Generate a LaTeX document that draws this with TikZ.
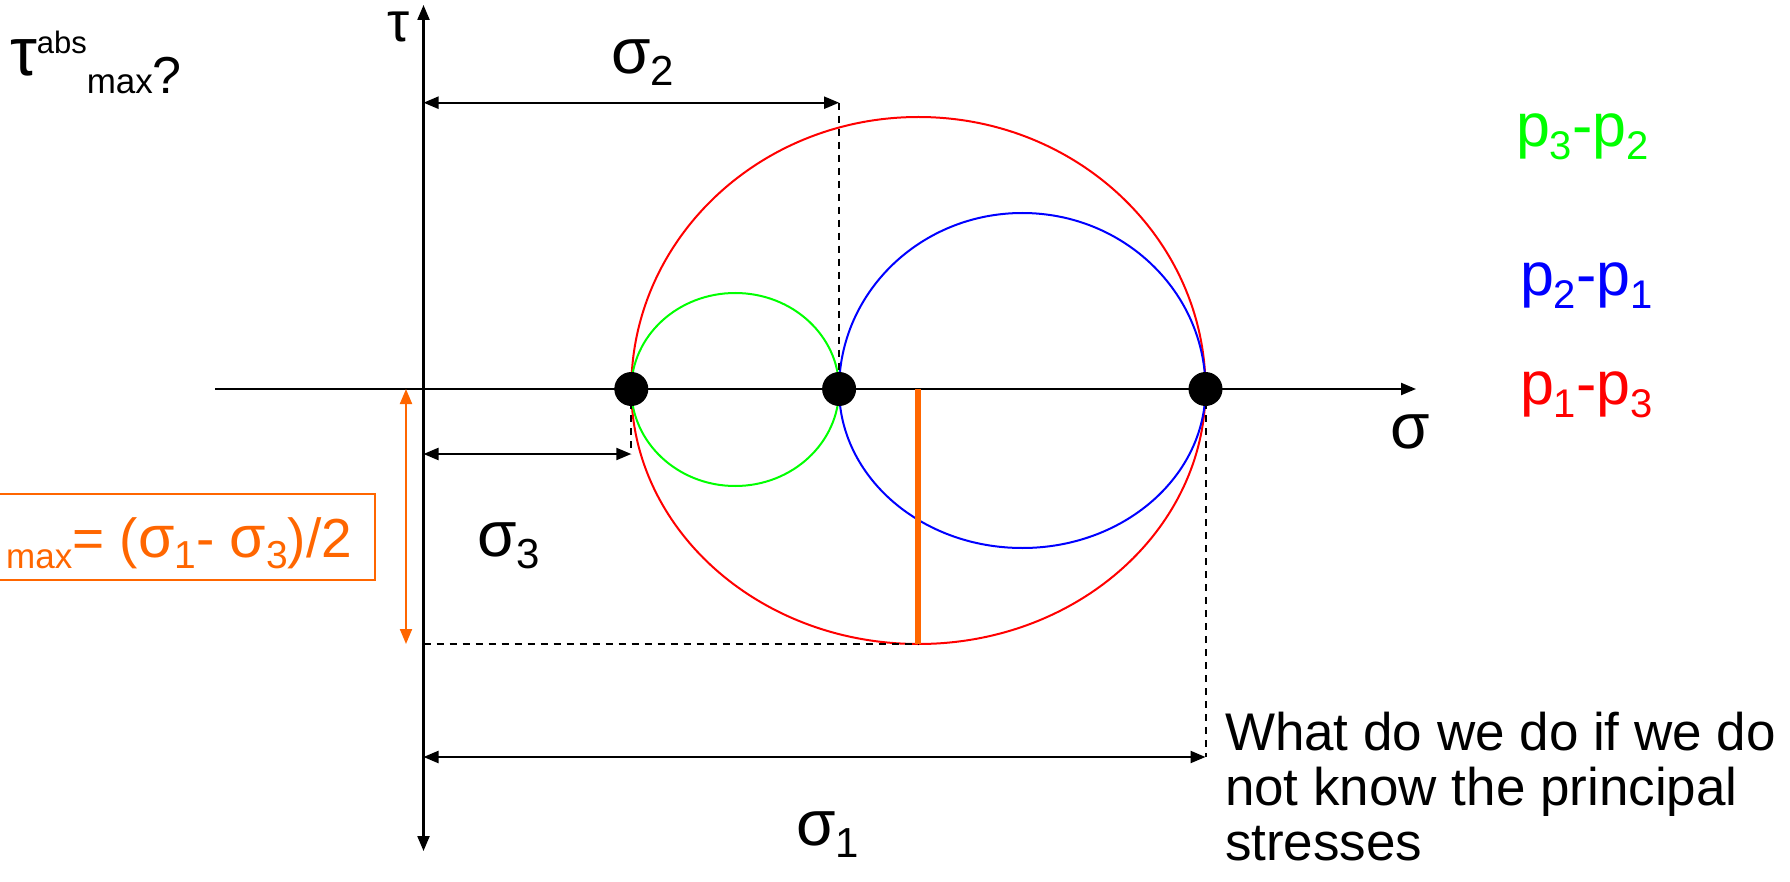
\documentclass[tikz,border=0pt]{standalone}
\usepackage{fontspec}
\usepackage{graphicx}
\setmainfont{Liberation Sans}
\usetikzlibrary{arrows.meta}
\newcommand\fsz[1]{\fontsize{#1}{#1}\selectfont}
\newcommand\gsym[2]{{\fsz{#1}#2}}
\definecolor{myorange}{RGB}{255,102,0}
\definecolor{mygreen}{RGB}{0,255,0}
\definecolor{myblue}{RGB}{0,0,255}
\definecolor{myred}{RGB}{255,0,0}
\begin{document}
\begin{tikzpicture}[x=1pt,y=-1pt,
  axisline/.style={line width=2.2pt},
  tip/.tip={Triangle[length=15pt,width=12pt]},
  dimline/.style={line width=2.2pt,tip-tip},
  dashline/.style={line width=2pt,dash pattern=on 7pt off 6pt},
  circ/.style={line width=2pt},
  dotnode/.style={circle,fill=black,minimum size=34pt,inner sep=0pt},
  lbl/.style={inner sep=0pt,outer sep=0pt},
]
\useasboundingbox (0,0) rectangle (1790,882);

% principal points
\coordinate (p3) at (631.3,389);
\coordinate (p2) at (839.1,389);
\coordinate (p1) at (1205.5,389);

% circles
\draw[circ,myred]   (p3) arc[start angle=180,end angle=0,x radius=287.1pt,y radius=272pt];
\draw[circ,myred]   (p3) arc[start angle=180,end angle=360,x radius=287.1pt,y radius=255pt];
\draw[circ,myblue]  (p2) arc[start angle=180,end angle=0,x radius=183.2pt,y radius=176pt];
\draw[circ,myblue]  (p2) arc[start angle=180,end angle=360,x radius=183.2pt,y radius=159pt];
\draw[circ,mygreen] (p3) arc[start angle=180,end angle=0,x radius=103.9pt,y radius=96pt];
\draw[circ,mygreen] (p3) arc[start angle=180,end angle=360,x radius=103.9pt,y radius=97pt];

% axes
\coordinate (hL) at (215,389);
\coordinate (hR) at (1416,389);
\coordinate (vT) at (423.5,5);
\coordinate (vB) at (423.5,851);
\draw[axisline,-tip] (hL) -- (hR);
\draw[axisline,tip-tip] (vT) -- (vB);

% dimension lines
\coordinate (d2L) at (423.5,102.7);
\coordinate (d2R) at (839.1,102.7);
\coordinate (d3L) at (423.5,454);
\coordinate (d3R) at (631.3,454);
\coordinate (d1L) at (423.5,757);
\coordinate (d1R) at (1205.5,757);
\draw[dimline] (d2L) -- (d2R);
\draw[dimline] (d3L) -- (d3R);
\draw[dimline] (d1L) -- (d1R);
\draw[dashline] (d2R) -- (p2);
\draw[dashline] (p3) -- (d3R);
\draw[dashline] (p1) -- (d1R);

% tau max construction
\coordinate (rc) at (918.4,389);
\coordinate (rb) at (918.4,644);
\coordinate (hb) at (423.5,644);
\draw[dashline] (hb) -- (rb);
\draw[myorange,line width=6pt] (rc) -- (rb);
\coordinate (oT) at (406,389);
\coordinate (oB) at (406,644);
\draw[myorange,line width=2pt,{Triangle[length=15pt,width=12pt]}-{Triangle[length=15pt,width=12pt]}] (oT) -- (oB);

% dots
\node[dotnode] (n3) at (p3) {};
\node[dotnode] (n2) at (p2) {};
\node[dotnode] (n1) at (p1) {};

% orange box
\draw[myorange,line width=2pt] (-10,494) rectangle (375,580);
\node[lbl,anchor=base east,text=myorange] (taumax) at (352,557)
  {{\fsz{35}\raisebox{-11pt}{max}}{\fsz{55}= (}\gsym{59}{σ}{\fsz{39}\raisebox{-11pt}{1}}{\fsz{55}- }\gsym{59}{σ}{\fsz{39}\raisebox{-11pt}{3}}{\fsz{55})/2}};

% labels
\node[lbl,anchor=base west] (taulbl) at (387,42) {\gsym{56}{τ}};
\node[lbl,anchor=base west] (siglbl) at (1390,448) {\gsym{64}{σ}};
\node[lbl,anchor=base west] (s2lbl) at (611,74) {\gsym{64}{σ}{\fsz{42}\raisebox{-12pt}{2}}};
\node[lbl,anchor=base west] (s3lbl) at (477,556) {\gsym{64}{σ}{\fsz{42}\raisebox{-12pt}{3}}};
\node[lbl,anchor=base west] (s1lbl) at (796,845) {\gsym{64}{σ}{\fsz{42}\raisebox{-12pt}{1}}};

\node[lbl,anchor=base west] (q) at (10,94)
  {\raisebox{18pt}{\gsym{68}{τ}}\raisebox{40pt}{\fsz{31}abs}{\fsz{35}max}{\fsz{52}?}};

% legend
\node[lbl,anchor=base west,text=mygreen] (l32) at (1516,147)
  {{\fsz{61}p}{\fsz{40}\raisebox{-13pt}{3}}{\fsz{61}-p}{\fsz{40}\raisebox{-13pt}{2}}};
\node[lbl,anchor=base west,text=myblue] (l21) at (1520,296)
  {{\fsz{61}p}{\fsz{40}\raisebox{-13pt}{2}}{\fsz{61}-p}{\fsz{40}\raisebox{-13pt}{1}}};
\node[lbl,anchor=base west,text=myred] (l13) at (1520,404)
  {{\fsz{61}p}{\fsz{40}\raisebox{-13pt}{1}}{\fsz{61}-p}{\fsz{40}\raisebox{-13pt}{3}}};

% question
\node[lbl,anchor=north west,align=left,font=\fontsize{53}{55}\selectfont] (what) at (1225,712)
  {What do we do if we do\\not know the principal\\stresses};
\end{tikzpicture}
\end{document}
